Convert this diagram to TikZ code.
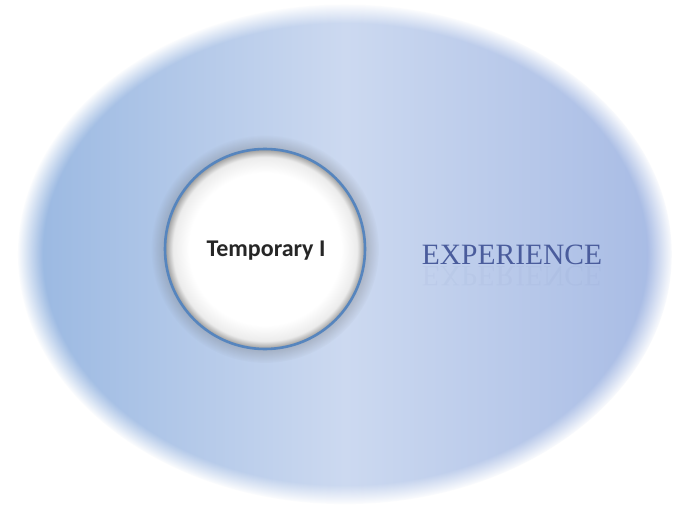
\documentclass[tikz,border=0pt]{standalone}
\usepackage{fontspec}
\setmainfont{Liberation Serif}
\newfontfamily\calib{Carlito}
\usetikzlibrary{fadings}
\definecolor{bleft}{HTML}{98B7E1}
\definecolor{bmid}{HTML}{CCD9F0}
\definecolor{bright}{HTML}{A6BAE4}
\definecolor{ringblue}{HTML}{5685BE}
\definecolor{exptext}{HTML}{4A5C9C}
\pgfdeclareradialshading{outerfuzzsh}{\pgfpointorigin}{color(0bp)=(pgftransparent!0); color(23bp)=(pgftransparent!0); color(25bp)=(pgftransparent!100); color(50bp)=(pgftransparent!100)}
\pgfdeclarefading{outerfuzz}{\pgfuseshading{outerfuzzsh}}
\pgfdeclareradialshading{halofadesh}{\pgfpointorigin}{color(0bp)=(pgftransparent!0); color(21bp)=(pgftransparent!0); color(25bp)=(pgftransparent!100); color(50bp)=(pgftransparent!100)}
\pgfdeclarefading{halofade}{\pgfuseshading{halofadesh}}
\pgfdeclareradialshading{innershade}{\pgfpointorigin}{color(0bp)=(white); color(19bp)=(white); color(23bp)=(white!85!gray); color(25bp)=(gray!80); color(50bp)=(gray!80)}
\tikzset{
  outerell/.style={shading=axis, left color=bleft, right color=bright, middle color=bmid, shading angle=90, path fading=outerfuzz},
  halo/.style={fill=gray!70!black, opacity=0.35, path fading=halofade},
  innercirc/.style={shading=innershade},
  ring/.style={draw=ringblue, line width=2.6pt},
  tmpl/.style={font=\calib\bfseries\fontsize{24}{28}\selectfont, text=black!85},
  expl/.style={font=\fontsize{29.5}{34}\selectfont, text=exptext}
}
\begin{document}
\begin{tikzpicture}[x=1pt,y=-1pt]
\useasboundingbox[fill=white] (0,0) rectangle (686,511);
\shade[outerell] (345,254) ellipse [x radius=327, y radius=250];
\coordinate (outer) at (345,254);
\fill[halo] (265,249) circle (114);
\shade[innercirc] (265,249) circle (100);
\node[circle, minimum size=200pt, inner sep=0pt] (inner) at (265,249) {};
\draw[ring] (inner.center) circle (100);
\node[tmpl, anchor=base] (lbl1) at (266,256) {Temporary I};
\node[expl, anchor=base] (lbl2) at (512,264) {EXPERIENCE};
\node[expl, anchor=base, yscale=-1, opacity=0.045] (lbl2r) at (512,266) {EXPERIENCE};
\end{tikzpicture}
\end{document}
